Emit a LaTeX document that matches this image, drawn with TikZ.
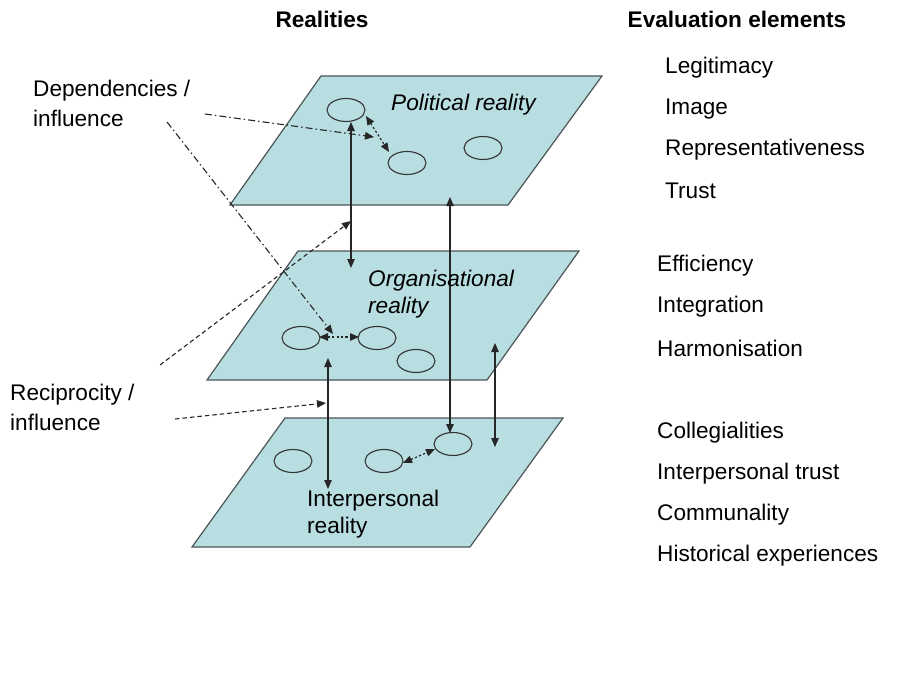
\documentclass[tikz,border=0pt]{standalone}
\usepackage{fontspec}
\setmainfont{Liberation Sans}
\usetikzlibrary{arrows.meta,shapes.geometric}
\definecolor{planefill}{RGB}{184,222,226}
\definecolor{planeedge}{RGB}{75,85,85}
\begin{document}
\begin{tikzpicture}[x=1pt,y=-1pt,
  plane/.style={fill=planefill,draw=planeedge,line width=1.2pt,line join=miter},
  circ/.style={ellipse,draw=black!80,line width=1.1pt,minimum width=38pt,minimum height=23pt,inner sep=0pt},
  txt/.style={font=\fontsize{22.6}{27}\selectfont,inner sep=0pt,anchor=west,yshift=-3pt},
  itxt/.style={txt,font=\fontsize{22.6}{27}\selectfont\itshape},
  head/.style={font=\fontsize{22.6}{27}\selectfont\bfseries,inner sep=0pt},
  tip/.style={-{Triangle[length=9pt,width=7.5pt]}},
  dtip/.style={{Triangle[length=9pt,width=7.5pt]}-{Triangle[length=9pt,width=7.5pt]}},
  solidarr/.style={line width=1.1pt,black!85},
  dotarr/.style={line width=1.2pt,black!85,dash pattern=on 2.2pt off 2.2pt},
  dasharr/.style={line width=1.1pt,black!85,dash pattern=on 4.5pt off 3pt},
  dasharrdot/.style={line width=1.1pt,black!85,dash pattern=on 7pt off 3pt on 1.5pt off 3pt}]
\useasboundingbox (0,0) rectangle (914,685);
% planes
\draw[plane] (321,76) -- (602,76) -- (508,205) -- (230,205) -- cycle;
\draw[plane] (298,251) -- (579,251) -- (487,380) -- (207,380) -- cycle;
\draw[plane] (285,418) -- (563,418) -- (470,547) -- (192,547) -- cycle;
% ellipses
\node[circ] (p1) at (346,110) {};
\node[circ] (p2) at (407,163) {};
\node[circ] (p3) at (483,148) {};
\node[circ] (o1) at (301,338) {};
\node[circ] (o2) at (377,338) {};
\node[circ] (o3) at (416,361) {};
\node[circ] (i1) at (293,461) {};
\node[circ] (i2) at (384,461) {};
\node[circ] (i3) at (453,444) {};
% coordinates for arrow endpoints
\coordinate (a1t) at (351,122);
\coordinate (a1b) at (351,268);
\coordinate (a2t) at (450,197);
\coordinate (a2b) at (450,433);
\coordinate (a3t) at (328,358);
\coordinate (a3b) at (328,489);
\coordinate (a4t) at (495,343);
\coordinate (a4b) at (495,447);
\coordinate (dep1s) at (205,114);
\coordinate (dep1e) at (374,137);
\coordinate (dep2s) at (167,122);
\coordinate (dep2e) at (333,334);
\coordinate (rec1s) at (160,365);
\coordinate (rec1e) at (351,221);
\coordinate (rec2s) at (175,419);
\coordinate (rec2e) at (326,403);
% vertical solid double arrows
\draw[solidarr,dtip] (a1t) -- (a1b);
\draw[solidarr,dtip] (a2t) -- (a2b);
\draw[solidarr,dtip] (a3t) -- (a3b);
\draw[solidarr,dtip] (a4t) -- (a4b);
% dotted double arrows between ellipses
\draw[dotarr,dtip] (366,116) -- (389,152);
\draw[dotarr,dtip] (319,337) -- (359,337);
\draw[dotarr,dtip] (403,463) -- (435,449);
% dependencies (dash-dot)
\draw[dasharrdot,tip] (dep1s) -- (dep1e);
\draw[dasharrdot,tip] (dep2s) -- (dep2e);
% reciprocity (dashed)
\draw[dasharr,tip] (rec1s) -- (rec1e);
\draw[dasharr,tip] (rec2s) -- (rec2e);
% headings
\node[head] (hr) at (322,19) {Realities};
\node[head] (he) at (737,19) {Evaluation elements};
% plane labels
\node[itxt] (pl) at (391,102) {Political reality};
\node[itxt] (ol1) at (368,278) {Organisational};
\node[itxt] (ol2) at (368,305) {reality};
\node[txt] (il1) at (307,498) {Interpersonal};
\node[txt] (il2) at (307,525) {reality};
% left labels
\node[txt] (d1) at (33,88) {Dependencies /};
\node[txt] (d2) at (33,115) {influence};
\node[txt] (r1) at (10,392) {Reciprocity /};
\node[txt] (r2) at (10,419) {influence};
% evaluation elements
\node[txt] (e1) at (665,65) {Legitimacy};
\node[txt] (e2) at (665,106) {Image};
\node[txt] (e3) at (665,147) {Representativeness};
\node[txt] (e4) at (665,188) {Trust};
\node[txt] (e5) at (657,263) {Efficiency};
\node[txt] (e6) at (657,304) {Integration};
\node[txt] (e7) at (657,345) {Harmonisation};
\node[txt] (e8) at (657,430) {Collegialities};
\node[txt] (e9) at (657,471) {Interpersonal trust};
\node[txt] (e10) at (657,512) {Communality};
\node[txt] (e11) at (657,553) {Historical experiences};
\end{tikzpicture}
\end{document}
